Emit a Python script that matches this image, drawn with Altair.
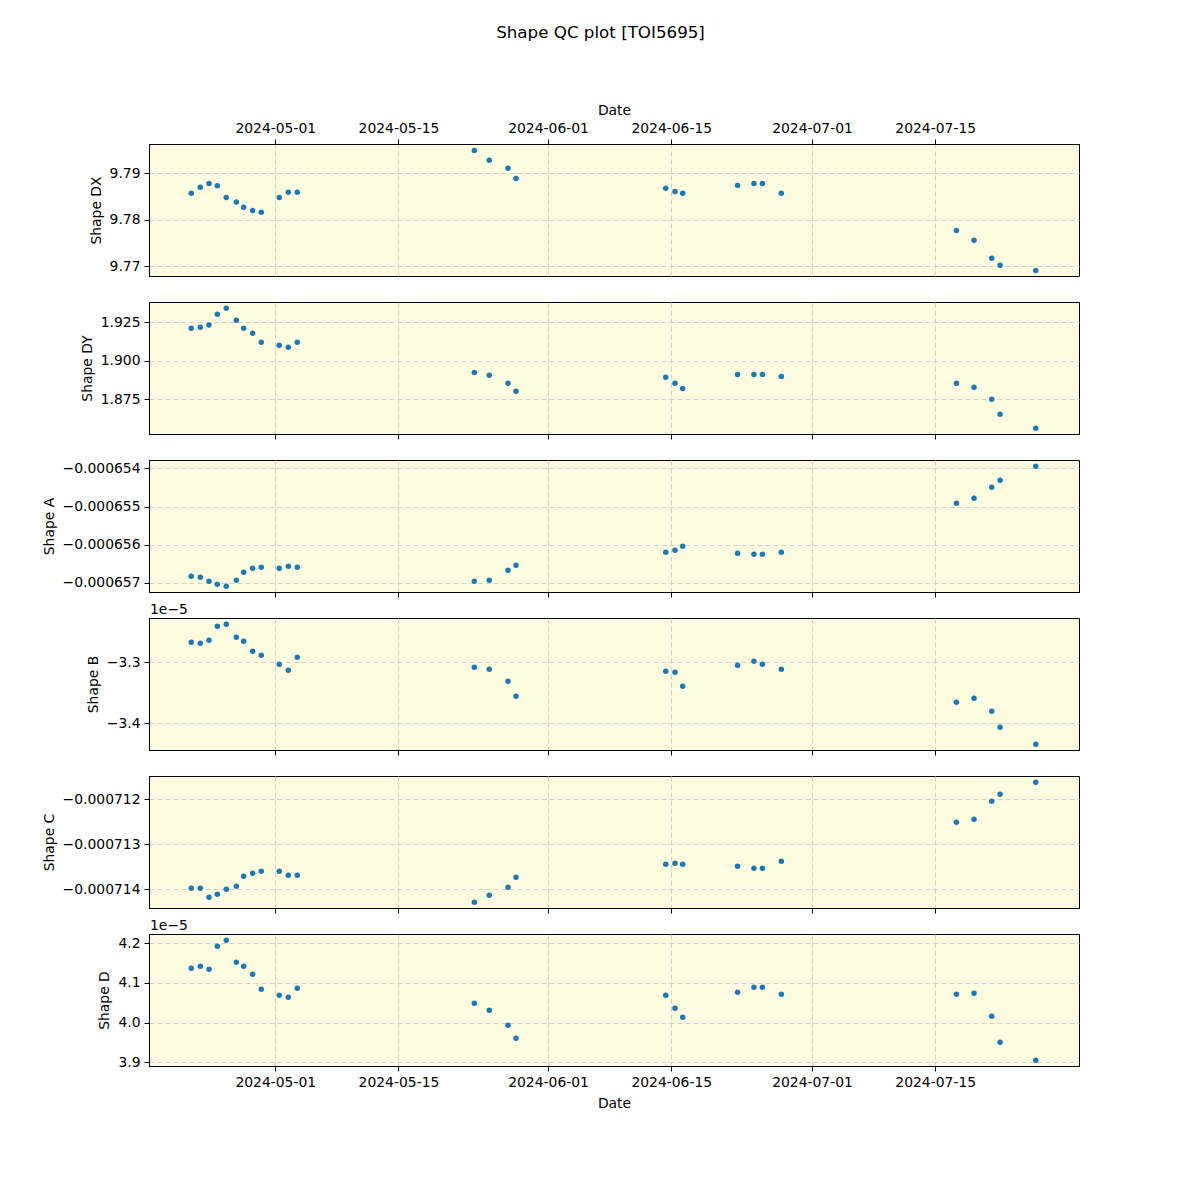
import altair as alt
import pandas as pd

# ---- data ----
dates = [
    "2024-04-21T10:48", "2024-04-22T11:31", "2024-04-23T11:17", "2024-04-24T09:50",
    "2024-04-25T10:19", "2024-04-26T13:41", "2024-04-27T09:50", "2024-04-28T10:19",
    "2024-04-29T09:50", "2024-05-01T10:48", "2024-05-02T11:31", "2024-05-03T12:00",
    "2024-05-23T14:53", "2024-05-25T07:41", "2024-05-27T10:48", "2024-05-28T08:38",
    "2024-06-14T09:07", "2024-06-15T10:19", "2024-06-16T07:12",
    "2024-06-22T12:58", "2024-06-24T09:36", "2024-06-25T08:38", "2024-06-27T12:14",
    "2024-07-17T09:50", "2024-07-19T09:50", "2024-07-21T10:05", "2024-07-22T08:53",
    "2024-07-26T10:19",
]
shape_dx = [9.7857, 9.7870, 9.7878, 9.7873, 9.7848, 9.7838, 9.7827, 9.7820, 9.7816,
            9.7848, 9.7859, 9.7859, 9.7949, 9.7928, 9.7911, 9.7889, 9.7868, 9.7861,
            9.7857, 9.7874, 9.7878, 9.7878, 9.7857, 9.7777, 9.7756, 9.7717, 9.7702, 9.7691]
shape_dy = [1.9211, 1.9218, 1.9232, 1.9302, 1.9341, 1.9263, 1.9211, 1.9179, 1.9120,
            1.9101, 1.9088, 1.9120, 1.8925, 1.8906, 1.8854, 1.8802, 1.8893, 1.8854,
            1.8821, 1.8912, 1.8912, 1.8912, 1.8899, 1.8854, 1.8828, 1.8750, 1.8653, 1.8562]
shape_a = [-6.56825e-04, -6.56851e-04, -6.56956e-04, -6.57034e-04, -6.57087e-04,
           -6.56930e-04, -6.56720e-04, -6.56616e-04, -6.56590e-04, -6.56616e-04,
           -6.56563e-04, -6.56590e-04, -6.56956e-04, -6.56930e-04, -6.56668e-04,
           -6.56537e-04, -6.56197e-04, -6.56145e-04, -6.56040e-04, -6.56223e-04,
           -6.56250e-04, -6.56250e-04, -6.56197e-04, -6.54916e-04, -6.54785e-04,
           -6.54497e-04, -6.54314e-04, -6.53948e-04]
shape_b = [-3.2672e-05, -3.2689e-05, -3.2639e-05, -3.2410e-05, -3.2377e-05, -3.2590e-05,
           -3.2656e-05, -3.2820e-05, -3.2885e-05, -3.3033e-05, -3.3131e-05, -3.2918e-05,
           -3.3082e-05, -3.3115e-05, -3.3311e-05, -3.3557e-05, -3.3148e-05, -3.3164e-05,
           -3.3393e-05, -3.3049e-05, -3.2984e-05, -3.3033e-05, -3.3115e-05, -3.3656e-05,
           -3.3590e-05, -3.3803e-05, -3.4066e-05, -3.4344e-05]
shape_c = [-7.13978e-04, -7.13978e-04, -7.14178e-04, -7.14111e-04, -7.14000e-04,
           -7.13933e-04, -7.13711e-04, -7.13644e-04, -7.13600e-04, -7.13600e-04,
           -7.13689e-04, -7.13689e-04, -7.14289e-04, -7.14133e-04, -7.13956e-04,
           -7.13733e-04, -7.13444e-04, -7.13422e-04, -7.13444e-04, -7.13489e-04,
           -7.13533e-04, -7.13533e-04, -7.13378e-04, -7.12511e-04, -7.12444e-04,
           -7.12044e-04, -7.11889e-04, -7.11622e-04]
shape_d = [4.1370e-05, 4.1420e-05, 4.1345e-05, 4.1924e-05, 4.2076e-05, 4.1521e-05,
           4.1420e-05, 4.1219e-05, 4.0840e-05, 4.0689e-05, 4.0639e-05, 4.0866e-05,
           4.0488e-05, 4.0311e-05, 3.9933e-05, 3.9605e-05, 4.0689e-05, 4.0361e-05,
           4.0135e-05, 4.0765e-05, 4.0891e-05, 4.0891e-05, 4.0714e-05, 4.0714e-05,
           4.0740e-05, 4.0160e-05, 3.9504e-05, 3.9051e-05]

# axis tick values
x_tick_dates = [(2024, 5, 1), (2024, 5, 15), (2024, 6, 1), (2024, 6, 15), (2024, 7, 1), (2024, 7, 15)]
dx_ticks = [9.77, 9.78, 9.79]
dy_ticks = [1.875, 1.900, 1.925]
a_ticks = [-0.000657, -0.000656, -0.000655, -0.000654]
b_ticks = [-3.4e-05, -3.3e-05]
c_ticks = [-0.000714, -0.000713, -0.000712]
d_ticks = [3.9e-05, 4.0e-05, 4.1e-05, 4.2e-05]

df = pd.DataFrame({
    "Date": dates, "DX": shape_dx, "DY": shape_dy, "A": shape_a,
    "B": shape_b, "C": shape_c, "D": shape_d,
})

FONT = "DejaVu Sans"
FS = 13.9
BLUE = "#1f77b4"

x_domain = [alt.DateTime(year=2024, month=4, date=16, hours=15, minutes=36),
            alt.DateTime(year=2024, month=7, date=31, hours=8, minutes=10)]
x_values = [alt.DateTime(year=y, month=m, date=d) for (y, m, d) in x_tick_dates]

MINUS = "\u2212"


def make_x(pos):
    if pos == "top":
        axis = alt.Axis(orient="top", values=x_values, format="%Y-%m-%d",
                        title="Date", labelOverlap=False, titlePadding=4)
        return alt.X("Date:T", scale=alt.Scale(domain=x_domain), axis=axis)
    if pos == "bottom":
        axis = alt.Axis(orient="bottom", values=x_values, format="%Y-%m-%d",
                        title="Date", labelOverlap=False, titlePadding=8)
        return alt.X("Date:T", scale=alt.Scale(domain=x_domain), axis=axis)
    axis = alt.Axis(orient="bottom", values=x_values, labels=False)
    return alt.X("Date:T", scale=alt.Scale(domain=x_domain), axis=axis, title=None)


def panel(field, title, domain, ticks, label_expr, pos, offset_text=False):
    base = alt.Chart(df).mark_circle(size=30, color=BLUE, opacity=1).encode(
        x=make_x(pos),
        y=alt.Y(f"{field}:Q",
                scale=alt.Scale(domain=domain, zero=False, nice=False),
                axis=alt.Axis(values=ticks, labelExpr=label_expr, title=title)),
    )
    if offset_text:
        txt = alt.Chart(alt.Data(values=[{"t": "1e" + MINUS + "5"}])).mark_text(
            align="left", baseline="bottom", font=FONT, fontSize=FS, color="black"
        ).encode(text="t:N", x=alt.value(1), y=alt.value(-1))
        base = alt.layer(base, txt)
    return base.properties(width=930, height=132)


p1 = panel("DX", "Shape DX", [9.7679, 9.7963], dx_ticks,
           "format(datum.value, '.2f')", "top")
p2 = panel("DY", "Shape DY", [1.8525, 1.9382], dy_ticks,
           "format(datum.value, '.3f')", "mid")
p3 = panel("A", "Shape A", [-0.000657236, -0.000653783], a_ticks,
           f"replace(format(datum.value, '.6f'), '-', '{MINUS}')", "mid")
p4 = panel("B", "Shape B", [-3.4438e-05, -3.2274e-05], b_ticks,
           f"replace(format(datum.value * 1e5, '.1f'), '-', '{MINUS}')", "mid", True)
p5 = panel("C", "Shape C", [-0.000714416, -0.000711482], c_ticks,
           f"replace(format(datum.value, '.6f'), '-', '{MINUS}')", "mid")
p6 = panel("D", "Shape D", [3.8907e-05, 4.2234e-05], d_ticks,
           "format(datum.value * 1e5, '.1f')", "bottom", True)

chart = alt.vconcat(p1, p2, p3, p4, p5, p6, spacing=26, bounds="flush").properties(
    title=alt.TitleParams("Shape QC plot [TOI5695]", font=FONT, fontSize=16.7,
                          fontWeight="normal", color="black", anchor="middle",
                          offset=61, dx=40),
    padding={"left": 33, "top": 16, "right": 5, "bottom": 5},
).configure_view(
    stroke="black", strokeWidth=1, fill="#FDFCE1"
).configure_axis(
    labelFont=FONT, labelFontSize=FS, labelColor="black",
    titleFont=FONT, titleFontSize=FS, titleFontWeight="normal", titleColor="black",
    tickColor="black", tickSize=5, tickWidth=1, domainColor="black",
    gridColor="#d0d0d0", gridDash=[5, 3], gridWidth=1,
    labelPadding=4,
).configure_axisY(
    titlePadding=6
)

chart.save("out.html", embed_options={"renderer": "svg", "actions": False})
